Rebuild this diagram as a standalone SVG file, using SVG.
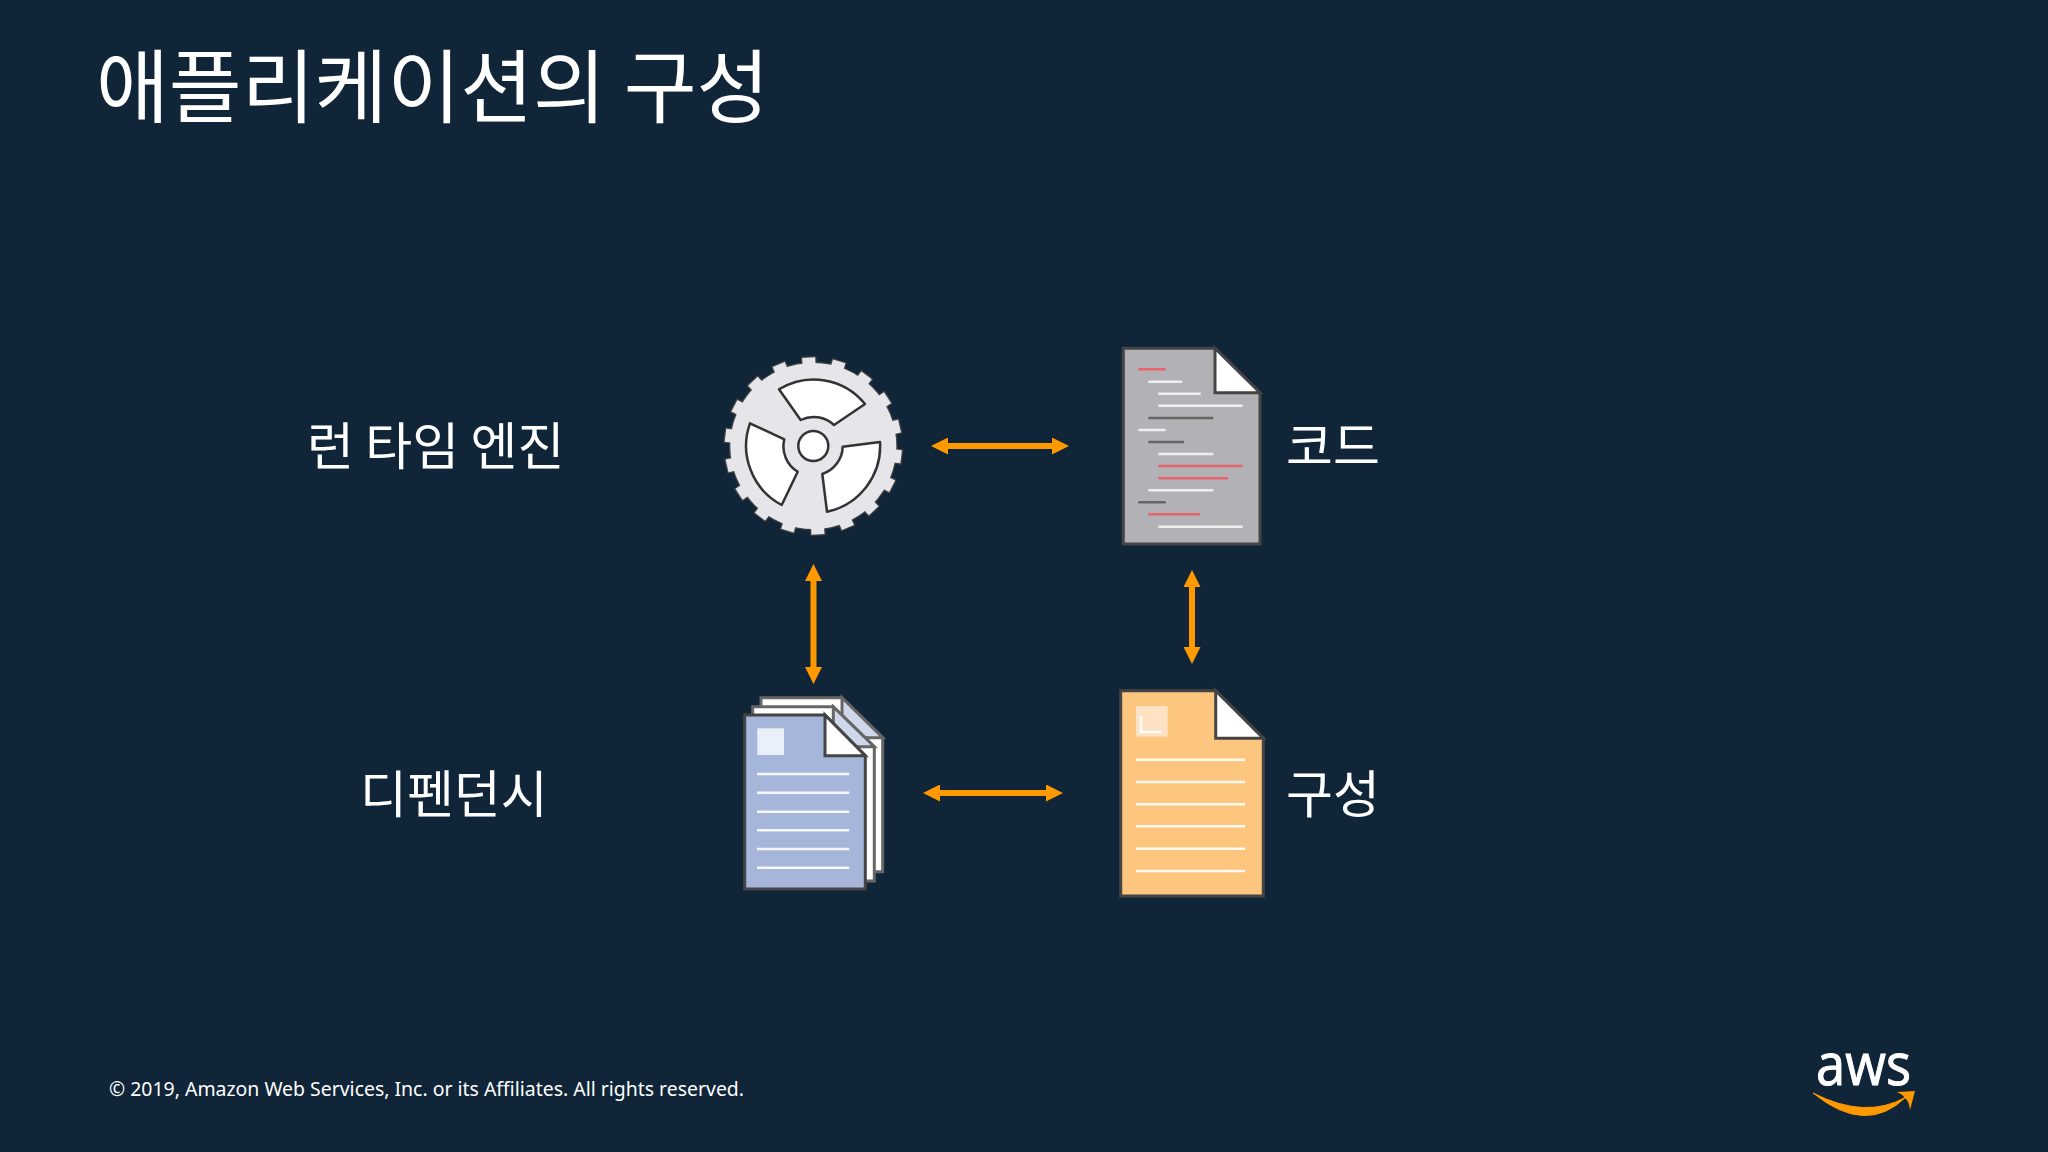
<svg xmlns="http://www.w3.org/2000/svg" xmlns:xlink="http://www.w3.org/1999/xlink" width="2048" height="1152" viewBox="0 0 2048 1152">
<defs>
<marker id="ah" viewBox="0 0 10 10" refX="5" refY="5" markerWidth="17" markerHeight="17" markerUnits="userSpaceOnUse" orient="auto-start-reverse"><path d="M0 0L10 5L0 10Z" fill="#f90"/></marker>
<g id="toothO"><rect x="-6.500" y="-88.5" width="13" height="12" fill="#444" stroke="#444" stroke-width="2.5"/></g>
<g id="toothF"><rect x="-6.500" y="-88.5" width="13" height="12" fill="#e6e6ea"/></g>
</defs>
<style>
.t{font-family:"Noto Sans CJK KR","Noto Sans",sans-serif;fill:#fff;font-weight:400}
.arr{stroke:#f90;stroke-width:6;fill:none;marker-start:url(#ah);marker-end:url(#ah)}
.doc{stroke:#444;stroke-width:3}
.fold{fill:#fff;stroke:#444;stroke-width:3;stroke-linejoin:miter}
.w{stroke:#eee;stroke-width:2.5}
.r{stroke:#e8636b;stroke-width:2.5}
.d{stroke:#666;stroke-width:2.5}
.blade{fill:#fff;stroke:#333;stroke-width:2.5;stroke-linejoin:round}
.pl{stroke:#fff;stroke-width:2.5;opacity:.9}
</style>
<rect width="2048" height="1152" fill="#102538"/>
<text id="title" class="t" x="96" y="116" font-size="79.2">애플리케이션의 구성</text>
<g id="runtime-label"><text class="t" x="307" y="465" font-size="51">런 타임 엔진</text></g>
<g id="code-label"><text class="t" x="1286" y="465" font-size="51">코드</text></g>
<g id="dep-label"><text class="t" x="360" y="813" font-size="51">디펜던시</text></g>
<g id="config-label"><text class="t" x="1286" y="813" font-size="51">구성</text></g>
<g id="gear" transform="translate(813.3 446)">
<circle r="83" fill="#e6e6ea" stroke="#444" stroke-width="2.5"/>
<g id="teeth-o">
<use xlink:href="#toothO" transform="rotate(-3)"/><use xlink:href="#toothO" transform="rotate(17)"/><use xlink:href="#toothO" transform="rotate(37)"/><use xlink:href="#toothO" transform="rotate(57)"/><use xlink:href="#toothO" transform="rotate(77)"/><use xlink:href="#toothO" transform="rotate(97)"/><use xlink:href="#toothO" transform="rotate(117)"/><use xlink:href="#toothO" transform="rotate(137)"/><use xlink:href="#toothO" transform="rotate(157)"/><use xlink:href="#toothO" transform="rotate(177)"/><use xlink:href="#toothO" transform="rotate(197)"/><use xlink:href="#toothO" transform="rotate(217)"/><use xlink:href="#toothO" transform="rotate(237)"/><use xlink:href="#toothO" transform="rotate(257)"/><use xlink:href="#toothO" transform="rotate(277)"/><use xlink:href="#toothO" transform="rotate(297)"/><use xlink:href="#toothO" transform="rotate(317)"/><use xlink:href="#toothO" transform="rotate(337)"/>
</g>
<circle r="83" fill="#e6e6ea"/>
<g id="teeth-f">
<use xlink:href="#toothF" transform="rotate(-3)"/><use xlink:href="#toothF" transform="rotate(17)"/><use xlink:href="#toothF" transform="rotate(37)"/><use xlink:href="#toothF" transform="rotate(57)"/><use xlink:href="#toothF" transform="rotate(77)"/><use xlink:href="#toothF" transform="rotate(97)"/><use xlink:href="#toothF" transform="rotate(117)"/><use xlink:href="#toothF" transform="rotate(137)"/><use xlink:href="#toothF" transform="rotate(157)"/><use xlink:href="#toothF" transform="rotate(177)"/><use xlink:href="#toothF" transform="rotate(197)"/><use xlink:href="#toothF" transform="rotate(217)"/><use xlink:href="#toothF" transform="rotate(237)"/><use xlink:href="#toothF" transform="rotate(257)"/><use xlink:href="#toothF" transform="rotate(277)"/><use xlink:href="#toothF" transform="rotate(297)"/><use xlink:href="#toothF" transform="rotate(317)"/><use xlink:href="#toothF" transform="rotate(337)"/>
</g>
<g transform="translate(-813.3 -446)">
<path class="blade" d="M779 389.3A66 66 0 0 1 865 404L834 425A29.5 29.5 0 0 0 800.7 420Z"/>
<path class="blade" d="M880 442A67 67 0 0 1 827 511.7L822.3 474A29.5 29.5 0 0 0 842.7 446.7Z"/>
<path class="blade" d="M750 423.3A67 67 0 0 0 781.7 505L797.7 471.7A29.5 29.5 0 0 1 784.3 439.3Z"/>
<circle cx="813.3" cy="446" r="15" fill="#fff" stroke="#333" stroke-width="2.5"/>
</g>
</g>
<g id="code-doc">
<path class="doc" fill="#b2b2b6" d="M1123.3 348.3H1215L1260 392.7V544H1123.3Z"/>
<path class="fold" d="M1215 348.3L1260 392.7H1215Z"/>
<path class="r" d="M1138.3 369.3H1165.7M1158.3 466H1242.7M1158.3 478.3H1228M1148.3 514.3H1200.3"/>
<path class="w" d="M1148.3 381.7H1182.3M1158.3 393.7H1200.7M1158.3 405.7H1242.7M1138.3 430H1165.7M1158.3 454H1213.3M1148.3 490.3H1213.3M1158.3 526.7H1242.7"/>
<path class="d" d="M1148.3 418H1213.3M1148.3 442H1184M1138.3 502.3H1165.7"/>
</g>
<g id="dep-docs">
<path class="doc" fill="#fff" style="stroke:#666" d="M761 697.7H842L882.7 737.7V871.7H761Z"/>
<path class="fold" style="fill:#cfd8ea;stroke:#666" d="M842 697.7L882.7 737.7H842Z"/>
<path class="doc" fill="#fff" style="stroke:#666" d="M752.7 706.7H833.3L874.3 746.7V881H752.7Z"/>
<path class="fold" style="fill:#cfd8ea;stroke:#666" d="M833.3 706.7L874.3 746.7H833.3Z"/>
<path class="doc" fill="#a5b6da" d="M744.7 715H825L865.3 755.7V889H744.7Z"/>
<path class="fold" d="M825 715L865.3 755.7H825Z"/>
<rect x="757.3" y="728.3" width="26.7" height="26.7" fill="#e9f0fa"/>
<path class="pl" d="M757 774H849.3M757 792.7H849.3M757 811.7H849.3M757 830.3H849.3M757 849H849.3M757 867.7H849.3"/>
</g>
<g id="config-doc">
<path class="doc" fill="#fcc67e" d="M1120.7 690.7H1215.7L1263.3 738.3V896H1120.7Z"/>
<path class="fold" d="M1215.7 690.7L1263.3 738.3H1215.7Z"/>
<rect x="1136" y="706" width="31.7" height="30.7" fill="#fde3c4"/>
<path class="pl" fill="none" d="M1141 716V732H1161"/>
<path class="pl" d="M1136 759.7H1245M1136 782H1245M1136 804.3H1245M1136 826.3H1245M1136 848.7H1245M1136 871H1245"/>
</g>
<g id="connectors">
<path class="arr" d="M939.5 446H1060.5"/>
<path class="arr" d="M813.5 572.5V675.5"/>
<path class="arr" d="M1192 578.5V655.5"/>
<path class="arr" d="M931.5 793H1054.5"/>
</g>
<text id="copyright" x="109" y="1095.500" font-family="'Noto Sans','Liberation Sans',sans-serif" font-size="19.45" fill="#fff">© 2019, Amazon Web Services, Inc. or its Affiliates. All rights reserved.</text>
<g id="aws-logo">
<text x="1816" y="1085" font-family="'Open Sans','Liberation Sans',sans-serif" font-size="58" fill="#fff" stroke="#fff" stroke-width="1" textLength="95" lengthAdjust="spacingAndGlyphs">aws</text>
<path d="M1813 1093Q1866 1136 1906 1097Q1866 1120 1813 1093Z" fill="#f90" stroke="#f90" stroke-width="1"/>
<path d="M1897 1092L1915 1091L1910 1110Q1909 1101 1905 1098Q1902 1094 1897 1092Z" fill="#f90"/>
</g>
</svg>
